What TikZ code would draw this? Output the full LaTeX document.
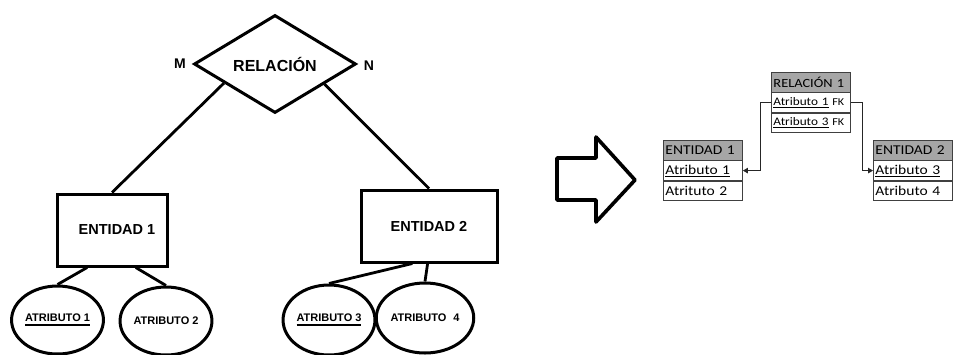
\documentclass[tikz,border=0pt]{standalone}
\usepackage{fontspec}
\setmainfont{Liberation Sans}
\newfontfamily\calib[FakeStretch=1.15]{Carlito}
\usetikzlibrary{shapes.geometric,arrows.meta,calc}

% thick underline for key attributes of the ER diagram
\newcommand\keyul[1]{\setbox0\hbox{#1}\rlap{\rule[-4.5pt]{\wd0}{1.8pt}}\box0}

\definecolor{hdrgray}{HTML}{A6A6A6}
\definecolor{tblline}{HTML}{404040}

\tikzset{
  erline/.style={line width=2.8pt},
  relshape/.style={diamond, draw, line width=3pt, minimum width=162pt, minimum height=98pt,
                   inner sep=0pt, font=\bfseries\fontsize{16}{18}\selectfont},
  entbox/.style={draw, line width=3pt, font=\bfseries\fontsize{14.5}{16}\selectfont},
  attrell/.style={ellipse, draw, line width=3pt, inner sep=0pt,
                  font=\bfseries\fontsize{11}{13}\selectfont},
  card/.style={font=\bfseries\fontsize{14}{16}\selectfont},
  cell/.style={draw=tblline, line width=0.9pt, minimum height=19.5pt, inner xsep=2pt, inner ysep=0pt,
               text width=75pt, align=left, font=\calib\fontsize{13.5}{15}\selectfont},
  hcell/.style={cell, fill=hdrgray},
  relcell/.style={cell, font=\calib\fontsize{11.5}{13}\selectfont},
  fkline/.style={draw=black!85, line width=1pt, -{Triangle[length=5pt,width=5.5pt]}},
  bigarrow/.style={line width=3.6pt, line join=round}
}
\newcommand\fk{\fontsize{10.5}{12}\selectfont FK}

\begin{document}
\begin{tikzpicture}[x=1pt,y=-1pt]
\useasboundingbox (0,0) rectangle (955,354);

% ---- ER diagram ----
\node[relshape] (rel) at (275,64) {RELACIÓN};
\node[card] (m) at (180,64) {M};
\node[card] (n) at (369,66) {N};

\node[entbox, minimum width=110pt, minimum height=72pt] (e1) at (112,230) {\hspace*{10pt}ENTIDAD 1};
\node[entbox, minimum width=136pt, minimum height=72pt] (e2) at (429,226) {ENTIDAD 2};

\node[attrell, minimum width=85pt, minimum height=68pt] (a1) at (57.5,320) {\keyul{ATRIBUTO 1}};
\node[attrell, minimum width=84pt, minimum height=68pt] (a2) at (166,321) {ATRIBUTO 2};
\node[attrell, minimum width=82pt, minimum height=70pt] (a3) at (329,320) {\keyul{ATRIBUTO 3}};
\node[attrell, minimum width=86pt, minimum height=70pt] (a4) at (425,318) {ATRIBUTO\hspace{7pt}4};

\draw[erline] ($(rel.west)!0.38!(rel.south)$) -- (e1.north);
\draw[erline] ($(rel.east)!0.40!(rel.south)$) -- (e2.north);
\draw[erline] ($(e1.south west)!0.28!(e1.south east)$) -- (a1.north);
\draw[erline] ($(e1.south west)!0.71!(e1.south east)$) -- (a2.north);
\draw[erline] ($(e2.south west)!0.38!(e2.south east)$) -- (a3.north);
\draw[erline] ($(e2.south west)!0.49!(e2.south east)$) -- (a4.north);

% ---- transformation arrow ----
\draw[bigarrow] (557,158) -- (596,158) -- (596,137) -- (635,180) -- (596,222) -- (596,200) -- (557,200) -- cycle;

% ---- relational tables ----
\node[relcell, fill=hdrgray, font=\calib\fontsize{12.5}{14}\selectfont, anchor=north west] (rh) at (771,72) {RELACIÓN 1};
\node[relcell, anchor=north] (r1) at (rh.south) {\underline{Atributo 1} \fk};
\node[relcell, anchor=north] (r2) at (r1.south) {\underline{Atributo 3} \fk};

\node[hcell, anchor=north west] (th1) at (663,140) {ENTIDAD 1};
\node[cell, anchor=north] (t1a) at (th1.south) {\underline{Atributo 1}};
\node[cell, anchor=north] (t1b) at (t1a.south) {Atrituto 2};

\node[hcell, anchor=north west] (th2) at (873,140) {ENTIDAD 2};
\node[cell, anchor=north] (t2a) at (th2.south) {\underline{Atributo 3}};
\node[cell, anchor=north] (t2b) at (t2a.south) {Atributo 4};

\draw[fkline] (r1.west) -- ++(-11,0) |- (t1a.east);
\draw[fkline] (r1.east) -- ++(12,0) |- (t2a.west);
\end{tikzpicture}
\end{document}
